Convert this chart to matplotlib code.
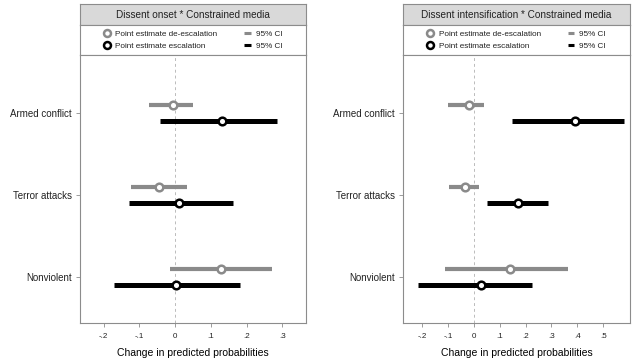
import matplotlib
matplotlib.use("Agg")
import matplotlib.pyplot as plt
from matplotlib.lines import Line2D

INK = "#222222"; FRAME = "#8c8c8c"; HEAD = "#d9d9d9"; CIGRAY = "#8a8a8a"

plt.rcParams.update({
    "font.family": ["Liberation Sans", "DejaVu Sans"],
    "text.color": INK, "xtick.color": INK, "ytick.color": INK,
})

categories = ["Armed conflict", "Terror attacks", "Nonviolent"]

# panel 1: dissent onset
on_de_pt = [-0.006, -0.044, 0.129]
on_de_lo = [-0.074, -0.123, -0.013]
on_de_hi = [0.051, 0.034, 0.271]
on_es_pt = [0.131, 0.011, 0.003]
on_es_lo = [-0.041, -0.130, -0.172]
on_es_hi = [0.286, 0.161, 0.181]

# panel 2: dissent intensification
in_de_pt = [-0.018, -0.034, 0.140]
in_de_lo = [-0.100, -0.096, -0.113]
in_de_hi = [0.040, 0.021, 0.362]
in_es_pt = [0.392, 0.170, 0.028]
in_es_lo = [0.149, 0.052, -0.217]
in_es_hi = [0.581, 0.287, 0.223]

ticks1 = [-0.2, -0.1, 0, 0.1, 0.2, 0.3]
ticklab1 = ["-.2", "-.1", "0", ".1", ".2", ".3"]
ticks2 = [-0.2, -0.1, 0, 0.1, 0.2, 0.3, 0.4, 0.5]
ticklab2 = ["-.2", "-.1", "0", ".1", ".2", ".3", ".4", ".5"]

W, H = 640, 360
fig = plt.figure(figsize=(6.4, 3.6), dpi=100)


def panel(x0, x1, title, xlim, ticks, ticklab, de, es):
    # header strip
    hax = fig.add_axes([x0 / W, 1 - 25 / H, (x1 - x0) / W, 21 / H])
    hax.set_facecolor(HEAD)
    hax.set_xticks([]); hax.set_yticks([])
    for s in hax.spines.values():
        s.set_color(FRAME); s.set_linewidth(0.8)
    hax.text(0.5, 0.5, title, ha="center", va="center", fontsize=7.2,
             transform=hax.transAxes)
    # legend strip
    lax = fig.add_axes([x0 / W, 1 - 55 / H, (x1 - x0) / W, 30 / H])
    lax.set_xticks([]); lax.set_yticks([])
    for s in lax.spines.values():
        s.set_color(FRAME); s.set_linewidth(0.8)
    hs = [
        Line2D([], [], ls="none", marker="o", ms=5, mfc="white", mec=CIGRAY, mew=1.8),
        Line2D([], [], ls="none", marker="o", ms=5, mfc="white", mec="black", mew=1.8),
        Line2D([], [], color=CIGRAY, lw=2.2, solid_capstyle="butt"),
        Line2D([], [], color="black", lw=2.2, solid_capstyle="butt"),
    ]
    labs = ["Point estimate de-escalation", "Point estimate escalation", "95% CI", "95% CI"]
    lax.legend(hs, labs, ncol=2, loc="center", bbox_to_anchor=(0.5, 0.5), frameon=False,
               fontsize=5.9, handlelength=0.8, handletextpad=0.6, columnspacing=3.3,
               labelspacing=0.45, borderpad=0)
    # plot
    ax = fig.add_axes([x0 / W, 1 - 323 / H, (x1 - x0) / W, 268 / H])
    ypos = [3, 2, 1]
    off = 0.1
    ax.axvline(0, color="#bbbbbb", ls=(0, (3, 3)), lw=0.7, zorder=1)
    for i, y in enumerate(ypos):
        ax.plot([de[1][i], de[2][i]], [y + off] * 2, color=CIGRAY, lw=3, solid_capstyle="butt", zorder=2)
        ax.plot([es[1][i], es[2][i]], [y - off] * 2, color="black", lw=3.6, solid_capstyle="butt", zorder=2)
    ax.plot(de[0], [y + off for y in ypos], ls="none", marker="o", ms=5.5, mfc="white",
            mec=CIGRAY, mew=1.8, zorder=3)
    ax.plot(es[0], [y - off for y in ypos], ls="none", marker="o", ms=5.5, mfc="white",
            mec="black", mew=1.8, zorder=3)
    ax.set_xlim(*xlim)
    ax.set_ylim(0.435, 3.71)
    ax.set_yticks(ypos)
    ax.set_yticklabels(categories, fontsize=7)
    ax.set_xticks(ticks)
    ax.set_xticklabels(ticklab, fontsize=5.8)
    ax.tick_params(axis="both", length=3, width=0.6, color=FRAME, pad=3)
    ax.tick_params(axis="x", pad=4)
    for s in ax.spines.values():
        s.set_color(FRAME); s.set_linewidth(0.8)
    ax.set_xlabel("Change in predicted probabilities", fontsize=7.5, labelpad=6)


panel(80, 306, "Dissent onset * Constrained media", (-0.266, 0.366), ticks1, ticklab1,
      (on_de_pt, on_de_lo, on_de_hi), (on_es_pt, on_es_lo, on_es_hi))
panel(403, 630, "Dissent intensification * Constrained media", (-0.275, 0.604), ticks2, ticklab2,
      (in_de_pt, in_de_lo, in_de_hi), (in_es_pt, in_es_lo, in_es_hi))

fig.savefig("out.png", dpi=100)
